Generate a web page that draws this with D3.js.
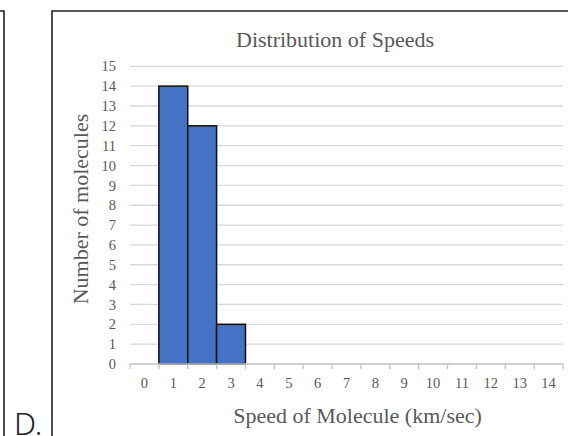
<!DOCTYPE html>
<html>
<head>
<meta charset="utf-8">
<script src="https://cdn.jsdelivr.net/npm/d3@7"></script>
<style>
  html, body { margin: 0; padding: 0; background: #fff; }
  svg { display: block; }
</style>
</head>
<body>
<svg id="chart" width="568" height="436"></svg>
<script>
// Histogram of molecule speeds: count per 1 km/sec bin
const speedBins = [0, 1, 2, 3, 4, 5, 6, 7, 8, 9, 10, 11, 12, 13, 14];
const moleculeCounts = [0, 14, 12, 2, 0, 0, 0, 0, 0, 0, 0, 0, 0, 0, 0];
const countTicks = [0, 1, 2, 3, 4, 5, 6, 7, 8, 9, 10, 11, 12, 13, 14, 15];

const chartTitle = "Distribution of Speeds";
const xTitle = "Speed of Molecule (km/sec)";
const yTitle = "Number of molecules";
const panelLabel = "D.";

const svg = d3.select("#chart");
const W = 568, H = 436;
const plot = { left: 130, right: 563, top: 66.3, bottom: 364 };

const serif = "'Liberation Serif', 'Times New Roman', serif";
const textGrey = "#595959";
const tickFont = 14.5;
const titleFont = 22;

// Panel frames (neighbouring panel edge on the left, this panel's frame)
svg.append("path")
  .attr("d", `M0,11 H4 V${H + 2}`)
  .attr("fill", "none").attr("stroke", "#222").attr("stroke-width", 1.6);
svg.append("path")
  .attr("d", `M52,${H + 2} V11 H${W + 2}`)
  .attr("fill", "none").attr("stroke", "#222").attr("stroke-width", 1.6);

svg.append("text")
  .attr("x", 14).attr("y", 435)
  .attr("font-family", "'Noto Sans', sans-serif")
  .attr("font-weight", 300)
  .attr("font-size", 31)
  .attr("fill", "#222")
  .text(panelLabel);

const x = d3.scaleBand()
  .domain(speedBins)
  .range([plot.left, plot.right])
  .padding(0);

const y = d3.scaleLinear()
  .domain([0, 15])
  .range([plot.bottom, plot.top]);

// Horizontal gridlines
svg.append("g")
  .selectAll("line")
  .data(countTicks.filter(d => d > 0))
  .join("line")
  .attr("x1", plot.left).attr("x2", plot.right)
  .attr("y1", d => y(d)).attr("y2", d => y(d))
  .attr("stroke", "#d9d9d9").attr("stroke-width", 1.3);

// Y axis labels (no axis line)
const yAxis = d3.axisLeft(y).tickValues(countTicks).tickSize(0).tickPadding(14);
const gy = svg.append("g")
  .attr("transform", `translate(${plot.left},0)`)
  .call(yAxis);
gy.select(".domain").remove();
gy.attr("font-family", serif).attr("font-size", tickFont);
gy.selectAll("text")
  .attr("font-family", serif).attr("font-size", tickFont).attr("fill", textGrey);

// Bars
svg.append("g")
  .selectAll("rect")
  .data(speedBins.map((b, i) => ({ bin: b, count: moleculeCounts[i] })).filter(d => d.count > 0))
  .join("rect")
  .attr("x", d => x(d.bin))
  .attr("y", d => y(d.count))
  .attr("width", x.bandwidth())
  .attr("height", d => y(0) - y(d.count))
  .attr("fill", "#4472c4")
  .attr("stroke", "#111")
  .attr("stroke-width", 1.5);

// X axis with tick marks at bin boundaries
const gx = svg.append("g")
  .attr("transform", `translate(0,${plot.bottom})`);
gx.append("line")
  .attr("x1", plot.left).attr("x2", plot.right)
  .attr("stroke", "#bfbfbf").attr("stroke-width", 1.3);
gx.selectAll("line.tick")
  .data(speedBins.concat([null]))
  .join("line")
  .attr("class", "tick")
  .attr("x1", (d, i) => i < speedBins.length ? x(d) : plot.right)
  .attr("x2", (d, i) => i < speedBins.length ? x(d) : plot.right)
  .attr("y1", 0).attr("y2", 5)
  .attr("stroke", "#bfbfbf").attr("stroke-width", 1.3);
gx.selectAll("text")
  .data(speedBins)
  .join("text")
  .attr("x", d => x(d) + x.bandwidth() / 2)
  .attr("y", 24)
  .attr("text-anchor", "middle")
  .attr("font-family", serif).attr("font-size", tickFont).attr("fill", textGrey)
  .text(d => d);

// Titles
svg.append("text")
  .attr("x", 335).attr("y", 46.5)
  .attr("text-anchor", "middle")
  .attr("font-family", serif).attr("font-size", titleFont).attr("fill", textGrey)
  .text(chartTitle);

svg.append("text")
  .attr("x", 357.5).attr("y", 423)
  .attr("text-anchor", "middle")
  .attr("font-family", serif).attr("font-size", titleFont).attr("fill", textGrey)
  .text(xTitle);

svg.append("text")
  .attr("transform", "translate(87.5,209) rotate(-90)")
  .attr("text-anchor", "middle")
  .attr("font-family", serif).attr("font-size", titleFont).attr("fill", textGrey)
  .text(yTitle);
</script>
</body>
</html>
